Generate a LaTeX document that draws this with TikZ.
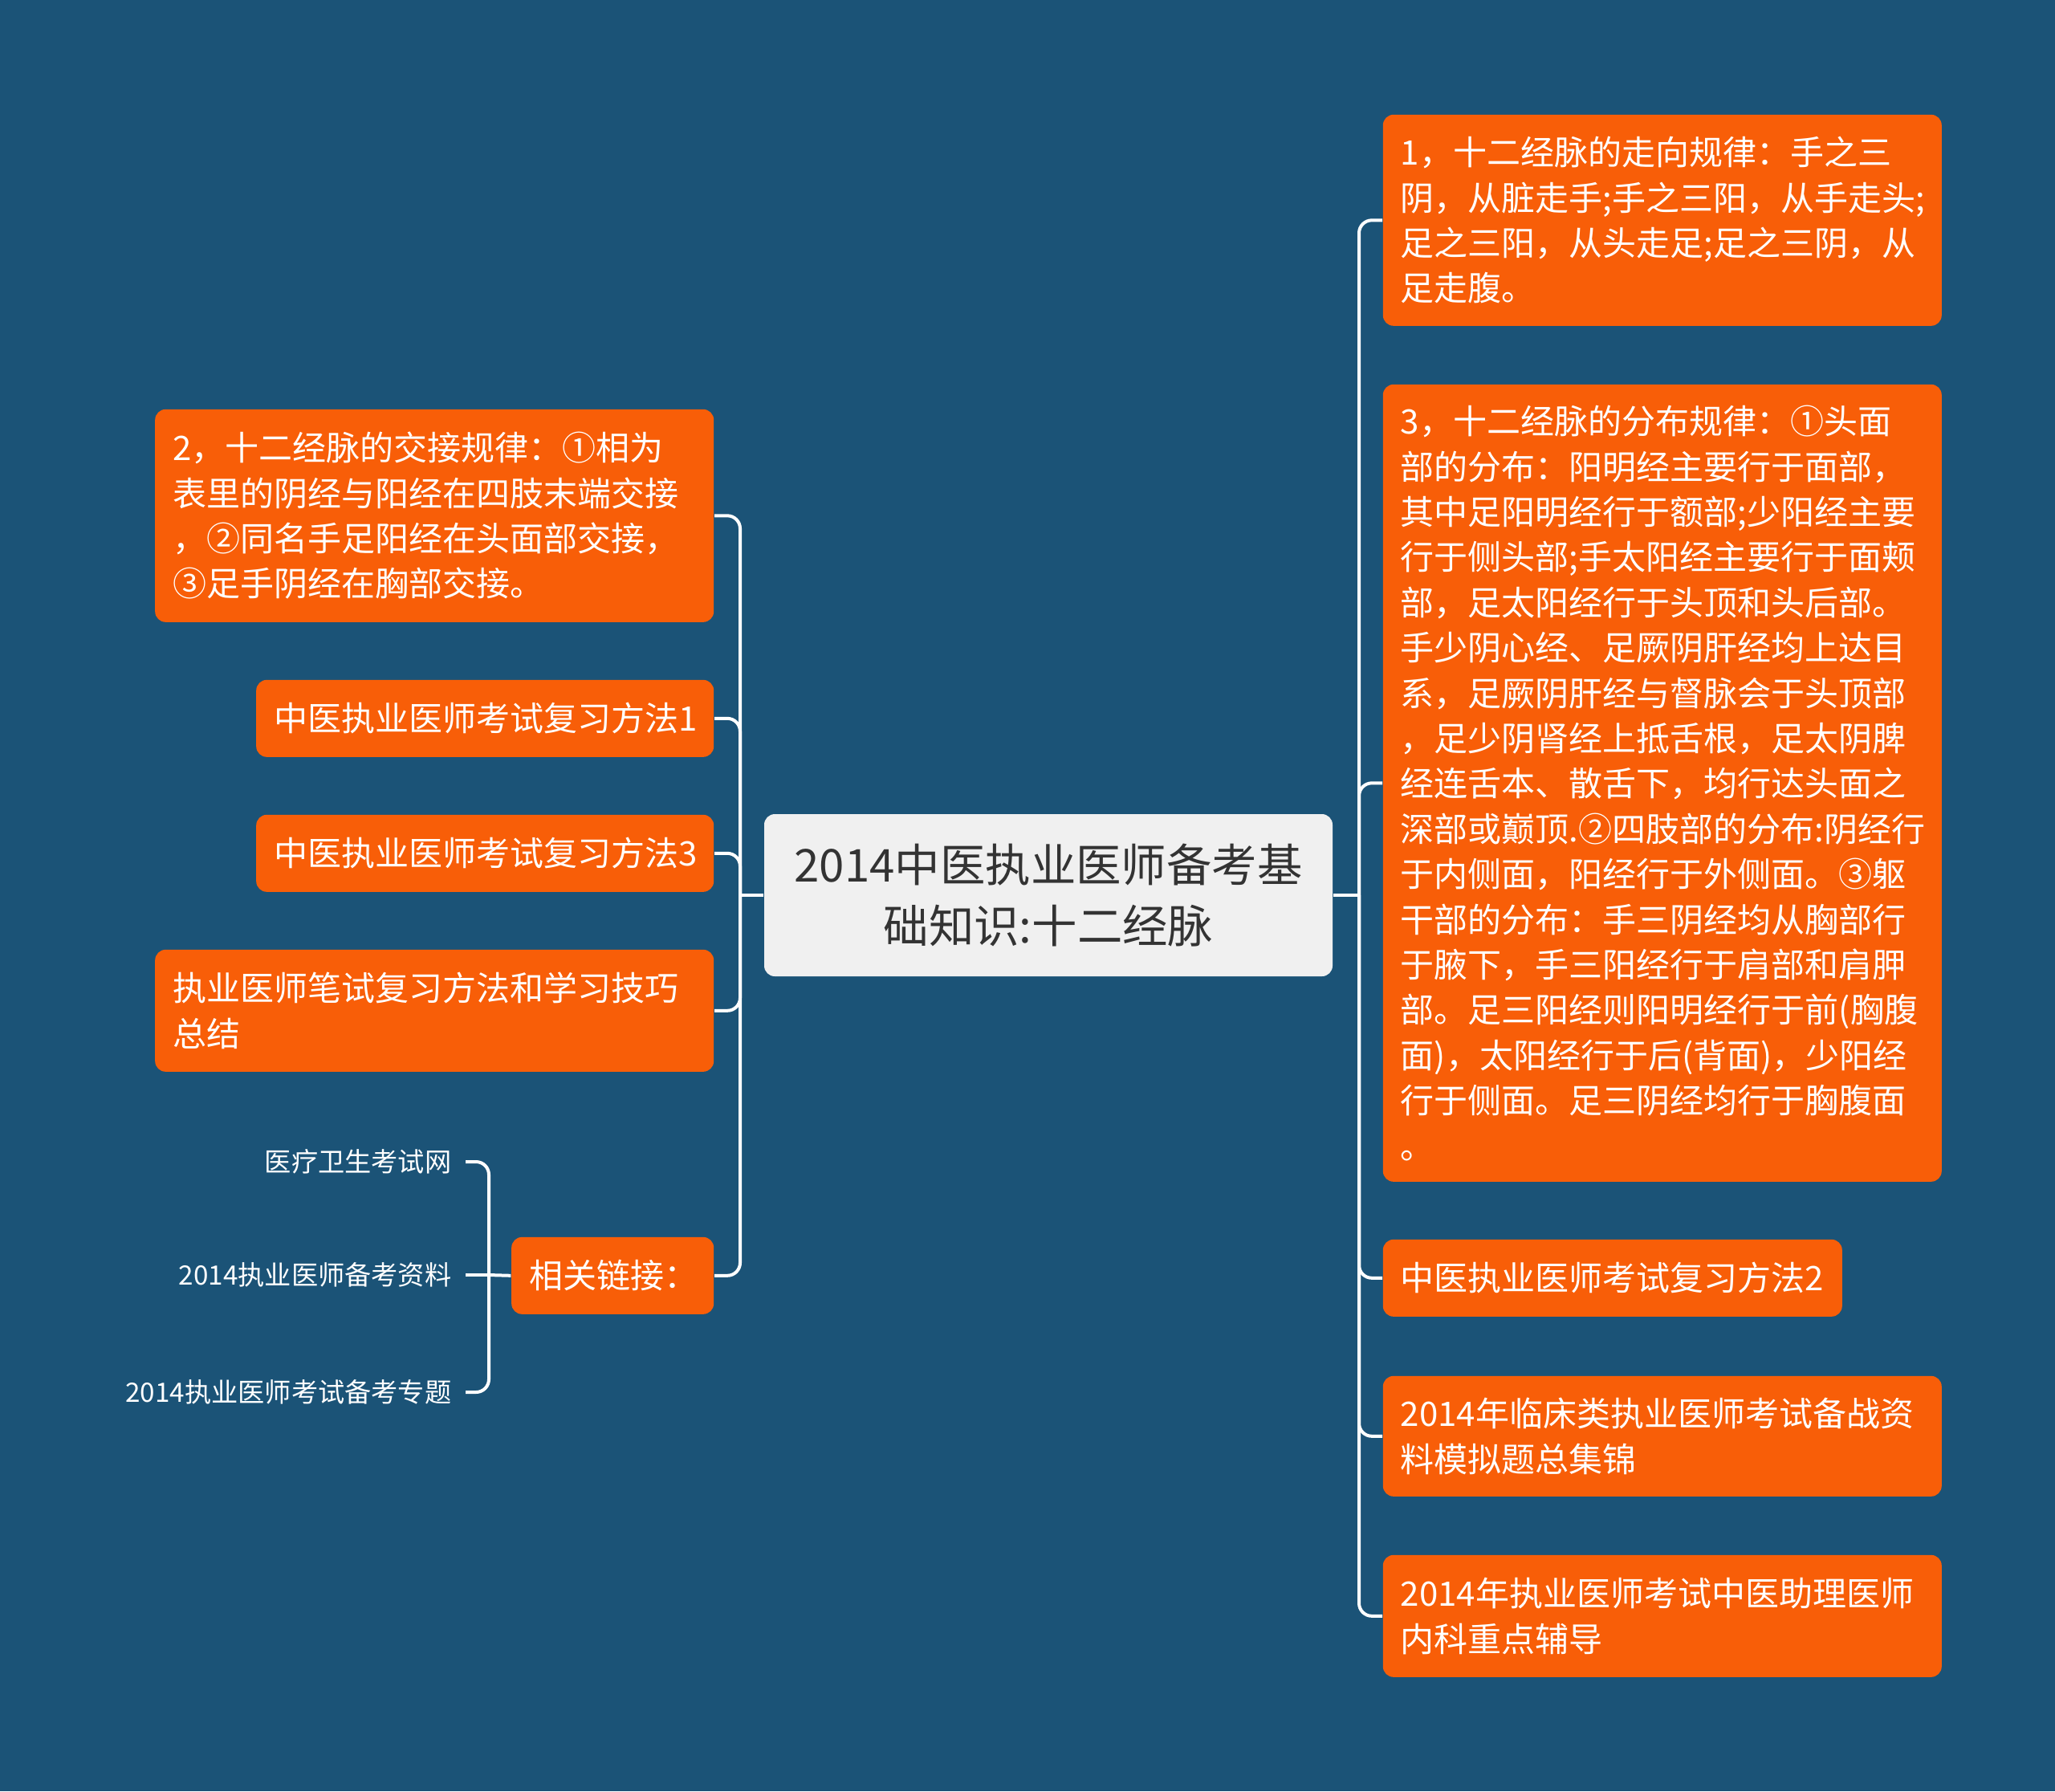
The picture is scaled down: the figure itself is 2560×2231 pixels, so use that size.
\documentclass[tikz,border=0pt]{standalone}
\usepackage{fontspec}
\setmainfont{Noto Sans CJK SC}
\definecolor{bg}{RGB}{27,83,119}
\definecolor{leafc}{RGB}{248,94,8}
\definecolor{rootc}{RGB}{240,240,240}
\definecolor{roottext}{RGB}{51,51,51}
\begin{document}
\begin{tikzpicture}[x=0.25pt,y=-0.25pt,
  leaf/.style={fill=leafc, rounded corners=3.3pt, text=white, align=left, inner xsep=5.5pt, inner ysep=0pt, font=\fontsize{10.5pt}{14.1pt}\selectfont},
  wide/.style={minimum width=174pt, text width=163pt},
  narrow/.style={minimum width=142.5pt, text width=131.5pt},
  conn/.style={draw=white, line width=1pt, rounded corners=4pt},
  sub/.style={text=white, inner xsep=4.25pt, inner ysep=0pt, font=\fontsize{8.3pt}{10pt}\selectfont}]
\fill[bg] (0,0) rectangle (2560,2231);
\useasboundingbox (0,0) rectangle (2560,2231);

\node[fill=rootc, rounded corners=3.3pt, text=roottext, align=center, minimum width=177pt, minimum height=50.5pt, inner sep=0pt, font=\fontsize{14.1pt}{18.8pt}\selectfont] (root) at (1306,1115) {2014中医执业医师备考基\\础知识:十二经脉};

% right side
\node[leaf, wide, anchor=north west, minimum height=65.75pt] (R1) at (1722,142) {1，十二经脉的走向规律：手之三\\阴，从脏走手;手之三阳，从手走头;\\足之三阳，从头走足;足之三阴，从\\足走腹。};
\node[leaf, wide, anchor=north west, minimum height=248.25pt] (R2) at (1722,478) {3，十二经脉的分布规律：①头面\\部的分布：阳明经主要行于面部，\\其中足阳明经行于额部;少阳经主要\\行于侧头部;手太阳经主要行于面颊\\部，足太阳经行于头顶和头后部。\\手少阴心经、足厥阴肝经均上达目\\系，足厥阴肝经与督脉会于头顶部\\，足少阴肾经上抵舌根，足太阴脾\\经连舌本、散舌下，均行达头面之\\深部或巅顶.②四肢部的分布:阴经行\\于内侧面，阳经行于外侧面。③躯\\干部的分布：手三阴经均从胸部行\\于腋下，手三阳经行于肩部和肩胛\\部。足三阳经则阳明经行于前(胸腹\\面)，太阳经行于后(背面)，少阳经\\行于侧面。足三阴经均行于胸腹面\\。};
\node[leaf, anchor=north west, minimum width=143pt, text width=132pt, minimum height=24pt] (R3) at (1722,1543) {中医执业医师考试复习方法2};
\node[leaf, wide, anchor=north west, minimum height=37.5pt] (R4) at (1722,1713) {2014年临床类执业医师考试备战资\\料模拟题总集锦};
\node[leaf, wide, anchor=north west, minimum height=38pt] (R5) at (1722,1936) {2014年执业医师考试中医助理医师\\内科重点辅导};

% left side
\node[leaf, wide, anchor=north east, minimum height=66.25pt] (L1) at (890,509) {2，十二经脉的交接规律：①相为\\表里的阴经与阳经在四肢末端交接\\，②同名手足阳经在头面部交接，\\③足手阴经在胸部交接。};
\node[leaf, narrow, anchor=north east, minimum height=24pt] (L2) at (890,846) {中医执业医师考试复习方法1};
\node[leaf, narrow, anchor=north east, minimum height=24pt] (L3) at (890,1014) {中医执业医师考试复习方法3};
\node[leaf, wide, anchor=north east, minimum height=38pt] (L4) at (890,1182) {执业医师笔试复习方法和学习技巧\\总结};
\node[leaf, anchor=north east, minimum width=63pt, text width=52pt, minimum height=24pt] (L5) at (890,1540) {相关链接：};

% sub leaves
\node[sub, anchor=east] (S1) at (580,1447) {医疗卫生考试网};
\node[sub, anchor=east] (S2) at (580,1588) {2014执业医师备考资料};
\node[sub, anchor=east] (S3) at (580,1734) {2014执业医师考试备考专题};

% connectors
\coordinate (sL) at (922,1115);
\coordinate (sR) at (1693,1115);
\coordinate (bk) at (609,1588);
\draw[conn] (root.west) -- (sL);
\draw[conn] (root.east) -- (sR);
\foreach \n in {L1,L2,L3,L4,L5} \draw[conn] (sL) |- (\n.east);
\foreach \n in {R1,R2,R3,R4,R5} \draw[conn] (sR) |- (\n.west);
\draw[conn] (L5.west) -- (bk);
\draw[conn] (bk) |- (S1.east);
\draw[conn] (bk) -- (S2.east);
\draw[conn] (bk) |- (S3.east);
\end{tikzpicture}
\end{document}
